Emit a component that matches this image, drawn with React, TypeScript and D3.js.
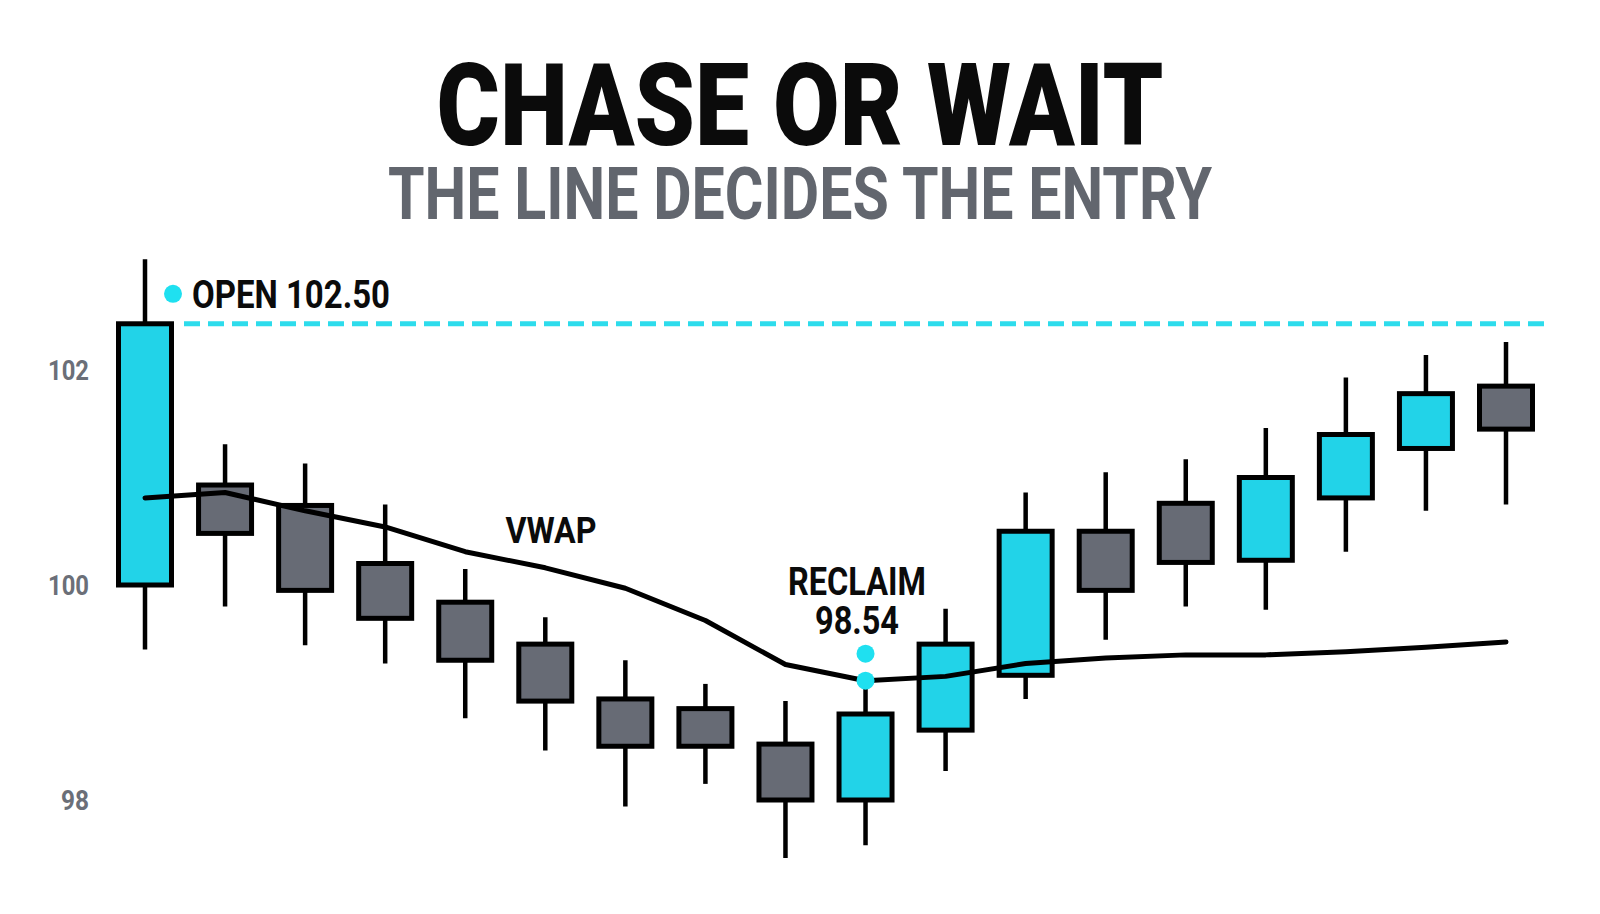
import * as d3 from "d3";

const W = 1600;
const H = 914;

// 18 intraday bars
const slots = d3.range(1, 19);
const opens = [100.0, 100.93, 100.74, 100.2, 99.84, 99.45, 98.94, 98.85, 98.52, 98.0, 98.65, 99.16, 100.5, 100.76, 100.23, 100.81, 101.27, 101.85];
const closes = [102.43, 100.48, 99.95, 99.69, 99.3, 98.92, 98.5, 98.5, 98.0, 98.8, 99.45, 100.5, 99.95, 100.21, 101.0, 101.4, 101.78, 101.45];
const highs = [103.03, 101.31, 101.13, 100.75, 100.15, 99.7, 99.3, 99.08, 98.92, 99.05, 99.78, 100.86, 101.05, 101.17, 101.46, 101.93, 102.14, 102.26];
const lows = [99.4, 99.8, 99.44, 99.27, 98.76, 98.46, 97.94, 98.15, 97.46, 97.58, 98.27, 98.94, 99.49, 99.8, 99.77, 100.31, 100.69, 100.75];
const vwap = [100.81, 100.86, 100.69, 100.54, 100.31, 100.16, 99.97, 99.67, 99.26, 99.11, 99.15, 99.27, 99.32, 99.35, 99.35, 99.38, 99.42, 99.47];

const yTicks = [98, 100, 102];
const openLevel = 102.43;
const reclaimIdx = 9;

const CYAN = "#22d3e8";
const GRAY = "#676b75";
const FONT = "Roboto, 'Liberation Sans', sans-serif";

export default function App() {
  const x = d3.scalePoint<number>().domain(slots).range([145, 1506]);
  const y = d3.scaleLinear().domain([98, 102]).range([800, 370]);

  const line = d3
    .line<number>()
    .x((_, i) => x(slots[i])!)
    .y((d) => y(d));

  const bodyW = 53;
  const openY = y(openLevel);
  const rx = x(slots[reclaimIdx])!;
  const ry = y(vwap[reclaimIdx]);

  return (
    <svg
      width={W}
      height={H}
      viewBox={`0 0 ${W} ${H}`}
      style={{ position: "absolute", left: 0, top: 0, background: "#fff" }}
      fontFamily={FONT}
    >
      <rect width={W} height={H} fill="#fff" />

      {/* titles */}
      <text x={800} y={145} textAnchor="middle" fontSize={115} fontWeight={900} fill="#0b0b0b"
        textLength={727} lengthAdjust="spacingAndGlyphs">
        CHASE OR WAIT
      </text>
      <text x={800} y={219} textAnchor="middle" fontSize={72} fontWeight={700} fill="#62666e"
        textLength={824} lengthAdjust="spacingAndGlyphs">
        THE LINE DECIDES THE ENTRY
      </text>

      {/* y tick labels */}
      {yTicks.map((t) => (
        <text key={t} x={89} y={y(t) + 10} textAnchor="end" fontSize={28} fontWeight={700} fill="#6b6f78"
          textLength={t >= 100 ? 41 : 28} lengthAdjust="spacingAndGlyphs">
          {t}
        </text>
      ))}

      {/* open level */}
      <line x1={184} x2={1552} y1={openY} y2={openY} stroke="#2ddcec" strokeWidth={5} strokeDasharray="16 8" />
      <circle cx={173} cy={openY - 30} r={9} fill="#1fe0f0" />
      <text x={192} y={openY - 16} fontSize={38} fontWeight={700} fill="#0b0b0b"
        textLength={198} lengthAdjust="spacingAndGlyphs">
        OPEN 102.50
      </text>

      {/* candles */}
      {slots.map((s, i) => {
        const cx = x(s)!;
        const up = closes[i] >= opens[i];
        const top = y(Math.max(opens[i], closes[i]));
        const bot = y(Math.min(opens[i], closes[i]));
        return (
          <g key={s}>
            <line x1={cx} x2={cx} y1={y(highs[i])} y2={y(lows[i])} stroke="#000" strokeWidth={4.5} />
            <rect x={cx - bodyW / 2} y={top} width={bodyW} height={bot - top}
              fill={up ? CYAN : GRAY} stroke="#000" strokeWidth={5} />
          </g>
        );
      })}

      {/* vwap */}
      <path d={line(vwap) ?? ""} fill="none" stroke="#000" strokeWidth={5} strokeLinejoin="round" strokeLinecap="round" />
      <text x={551} y={543} textAnchor="middle" fontSize={36} fontWeight={700} fill="#0b0b0b"
        textLength={91} lengthAdjust="spacingAndGlyphs">
        VWAP
      </text>

      {/* reclaim marker */}
      <circle cx={rx} cy={ry} r={9} fill="#1fe0f0" />
      <circle cx={rx} cy={ry - 27} r={9} fill="#1fe0f0" />
      <text x={857} y={595} textAnchor="middle" fontSize={38} fontWeight={700} fill="#0b0b0b"
        textLength={138} lengthAdjust="spacingAndGlyphs">
        RECLAIM
      </text>
      <text x={857} y={634} textAnchor="middle" fontSize={38} fontWeight={700} fill="#0b0b0b"
        textLength={84} lengthAdjust="spacingAndGlyphs">
        98.54
      </text>
    </svg>
  );
}
